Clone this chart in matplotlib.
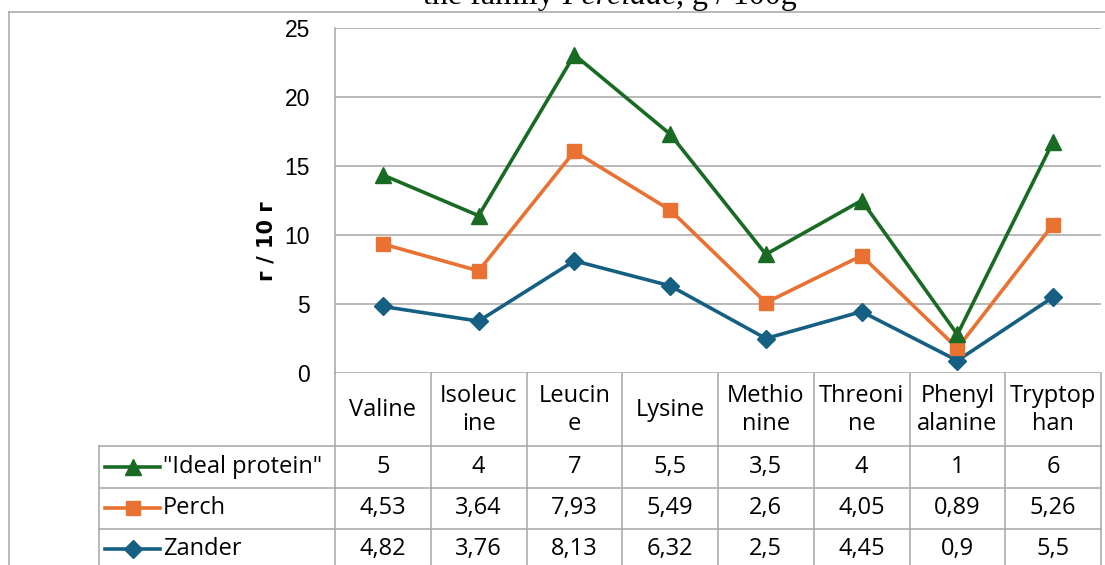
import numpy as np
import matplotlib
matplotlib.use("Agg")
import matplotlib.pyplot as plt
from matplotlib.lines import Line2D
from matplotlib.transforms import blended_transform_factory

# ---- data ----
categories = ["Valine", "Isoleucine", "Leucine", "Lysine", "Methionine",
              "Threonine", "Phenylalanine", "Tryptophan"]
header_labels = ["Valine", "Isoleuc\nine", "Leucin\ne", "Lysine", "Methio\nnine",
                 "Threoni\nne", "Phenyl\nalanine", "Tryptop\nhan"]
series_names = ['"Ideal protein"', "Perch", "Zander"]
ideal = [5, 4, 7, 5.5, 3.5, 4, 1, 6]
perch = [4.53, 3.64, 7.93, 5.49, 2.6, 4.05, 0.89, 5.26]
zander = [4.82, 3.76, 8.13, 6.32, 2.5, 4.45, 0.9, 5.5]
y_ticks = [0, 5, 10, 15, 20, 25]

colors = {"Zander": "#156082", "Perch": "#E97132", '"Ideal protein"': "#196B24"}
markers = {"Zander": "D", "Perch": "s", '"Ideal protein"': "^"}
msizes = {"Zander": 9, "Perch": 10, '"Ideal protein"': 11}

GRID = "#A6A6A6"
TFONT = ["Open Sans", "DejaVu Sans"]
TSIZE = 17

W, H = 1105, 565
fig = plt.figure(figsize=(W / 100, H / 100), dpi=100)


def fx(px):
    return px / W


def fy(py):
    return 1 - py / H


ax = fig.add_axes([fx(335), fy(373), fx(1101) - fx(335), fy(28) - fy(373)])

x = np.arange(len(categories))
stack = {}
cum = np.zeros(len(categories))
for name, vals in [("Zander", zander), ("Perch", perch), ('"Ideal protein"', ideal)]:
    cum = cum + np.array(vals)
    stack[name] = cum.copy()

for name in ["Zander", "Perch", '"Ideal protein"']:
    ax.plot(x, stack[name], color=colors[name], lw=2.6, marker=markers[name],
            ms=msizes[name], mec=colors[name], mfc=colors[name], zorder=3,
            clip_on=False)

ax.set_xlim(-0.5, len(categories) - 0.5)
ax.set_ylim(0, 25)
ax.set_yticks(y_ticks)
ax.set_xticks([])
ax.yaxis.grid(True, color=GRID, lw=1.1)
ax.set_axisbelow(True)
for s in ["top", "right", "bottom"]:
    ax.spines[s].set_visible(False)
ax.spines["left"].set_color(GRID)
ax.spines["left"].set_linewidth(1.1)
ax.tick_params(axis="y", length=0, pad=18, labelsize=16.5)
for lab in ax.get_yticklabels():
    lab.set_fontfamily("Liberation Sans")

# y label
fig.text(fx(266), fy(241), "г / 10 г", rotation=90, ha="center", va="center",
         fontsize=15, fontweight="bold", family="DejaVu Sans")

# ---- data table ----
tr = blended_transform_factory(ax.transData, fig.transFigure)
row_lines = [446, 488, 529]
row_centers = [467, 508, 549]
bottom = 570


def line_fig(x0, x1, y0, y1):
    fig.add_artist(Line2D([fx(x0), fx(x1)], [fy(y0), fy(y1)], color=GRID, lw=1.1,
                          transform=fig.transFigure))


# vertical column boundaries
for b in np.arange(len(categories) + 1) - 0.5:
    fig.add_artist(Line2D([b, b], [fy(373), fy(bottom)], color=GRID, lw=1.1,
                          transform=tr))
# legend column left border
line_fig(99, 99, 446, bottom)
for yl in row_lines:
    line_fig(99, 1101, yl, yl)

for i, lab in enumerate(header_labels):
    fig.text(i, fy(410), lab, transform=tr, ha="center", va="center",
             fontsize=TSIZE, family=TFONT, linespacing=1.25, multialignment="center")


def fmt(v):
    return ("%g" % v).replace(".", ",")


table_rows = [('"Ideal protein"', ideal), ("Perch", perch), ("Zander", zander)]
for (name, vals), yc in zip(table_rows, row_centers):
    for i, v in enumerate(vals):
        fig.text(i, fy(yc), fmt(v), transform=tr, ha="center", va="center",
                 fontsize=TSIZE, family=TFONT)
    fig.add_artist(Line2D([fx(105), fx(160)], [fy(yc), fy(yc)], color=colors[name],
                          lw=2.6, transform=fig.transFigure))
    fig.add_artist(Line2D([fx(133)], [fy(yc)], color=colors[name], marker=markers[name],
                          ms=msizes[name], mec=colors[name], mfc=colors[name],
                          transform=fig.transFigure))
    fig.text(fx(163), fy(yc), name, ha="left", va="center", fontsize=TSIZE, family=TFONT)

# ---- outer chart border (cropped) ----
line_fig(8.5, W + 5, 12, 12)
line_fig(8.5, 8.5, 12, H + 5)

# ---- title (cropped at top, as in the reference) ----
fig.canvas.draw()
renderer = fig.canvas.get_renderer()
parts = [("the family ", "normal"), ("Percidae", "italic"), (", g / 100g", "normal")]
xpos = fx(423)
for txt, style in parts:
    t = fig.text(xpos, fy(4), txt, ha="left", va="baseline", fontsize=23,
                 family="Liberation Serif", style=style)
    bb = t.get_window_extent(renderer)
    xpos = bb.x1 / W

fig.savefig("out.png", dpi=100)
